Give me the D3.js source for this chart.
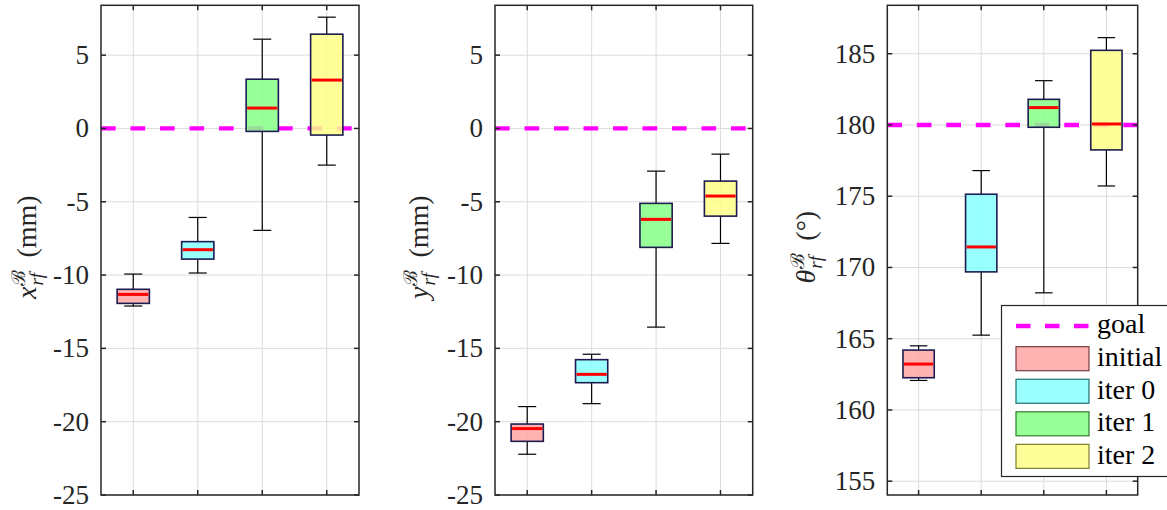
<!DOCTYPE html>
<html>
<head>
<meta charset="utf-8">
<script src="https://cdn.jsdelivr.net/npm/d3@7"></script>
<style>
  html, body { margin: 0; padding: 0; background: #fff; }
  svg { display: block; }
</style>
</head>
<body>
<svg id="svg" width="1167" height="510"></svg>
<script>
// box statistics: whisker low, q1, median, q3, whisker high
const groups = ["initial", "iter 0", "iter 1", "iter 2"];
const fillColors = ["#ffb3b3", "#99ffff", "#99ff99", "#ffff99"];   // as seen on white
const boxFills = ["#ffa5a5", "#87ffff", "#87ff87", "#ffff87"];     // drawn at 0.85 opacity
const legendEdges = ["#7a3b3b", "#1f6e6e", "#2e7d2e", "#7d7d2e"];

const xLow  = [-12.11, -9.86, -6.95, -2.50];
const xQ1   = [-11.93, -8.91, -0.20, -0.45];
const xMed  = [-11.32, -8.27,  1.39,  3.30];
const xQ3   = [-10.97, -7.72,  3.36,  6.43];
const xHigh = [ -9.93, -6.07,  6.09,  7.59];

const yLow  = [-22.22, -18.77, -13.55, -7.84];
const yQ1   = [-21.34, -17.34,  -8.11, -5.98];
const yMed  = [-20.47, -16.77,  -6.20, -4.61];
const yQ3   = [-20.16, -15.77,  -5.11, -3.59];
const yHigh = [-18.97, -15.40,  -2.91, -1.75];

const tLow  = [162.07, 165.25, 168.22, 175.72];
const tQ1   = [162.26, 169.69, 179.84, 178.25];
const tMed  = [163.22, 171.44, 181.22, 180.07];
const tQ3   = [164.20, 175.14, 181.80, 185.24];
const tHigh = [164.50, 176.80, 183.11, 186.13];

const mmTicks = [-25, -20, -15, -10, -5, 0, 5];
const degTicks = [155, 160, 165, 170, 175, 180, 185];

const panels = [
  { left: 101, right: 359, dom: [-25, 8.4], ticks: mmTicks, goal: 0,
    lo: xLow, q1: xQ1, med: xMed, q3: xQ3, hi: xHigh, sym: "x", unit: "(mm)", labX: 36 },
  { left: 495, right: 752.7, dom: [-25, 8.4], ticks: mmTicks, goal: 0,
    lo: yLow, q1: yQ1, med: yMed, q3: yQ3, hi: yHigh, sym: "y", unit: "(mm)", labX: 428 },
  { left: 887.3, right: 1137.7, dom: [154.03, 188.4], ticks: degTicks, goal: 180,
    lo: tLow, q1: tQ1, med: tMed, q3: tQ3, hi: tHigh, sym: "θ", unit: "(°)", labX: 815 },
];

const TOP = 5.3, BOTTOM = 495;
const AXIS = "#262626";
const FONT = "'Liberation Serif', 'Times New Roman', Times, 'DejaVu Serif', serif";
const svg = d3.select("#svg").attr("font-family", FONT);

function drawPanel(p) {
  const x = d3.scaleLinear().domain([0.5, 4.5]).range([p.left, p.right]);
  const y = d3.scaleLinear().domain(p.dom).range([BOTTOM, TOP]);
  const g = svg.append("g");
  const idx = d3.range(groups.length);

  // grid
  g.append("g").selectAll("line").data(p.ticks).join("line")
    .attr("x1", p.left).attr("x2", p.right)
    .attr("y1", d => y(d)).attr("y2", d => y(d))
    .attr("stroke", "#dcdcdc").attr("stroke-width", 1);
  g.append("g").selectAll("line").data(idx).join("line")
    .attr("x1", i => x(i + 1)).attr("x2", i => x(i + 1))
    .attr("y1", TOP).attr("y2", BOTTOM)
    .attr("stroke", "#dcdcdc").attr("stroke-width", 1);

  // goal line
  g.append("line")
    .attr("x1", p.left).attr("x2", p.right)
    .attr("y1", y(p.goal)).attr("y2", y(p.goal))
    .attr("stroke", "#ff00ff").attr("stroke-width", 4.3)
    .attr("stroke-dasharray", "14.7 14.8");

  // whiskers
  const capW = 0.14;
  const wh = g.append("g").attr("stroke", "#000").attr("stroke-width", 1.2);
  idx.forEach(i => {
    const cx = x(i + 1);
    wh.append("line").attr("x1", cx).attr("x2", cx).attr("y1", y(p.hi[i])).attr("y2", y(p.q3[i]));
    wh.append("line").attr("x1", cx).attr("x2", cx).attr("y1", y(p.q1[i])).attr("y2", y(p.lo[i]));
    wh.append("line").attr("x1", x(i + 1 - capW)).attr("x2", x(i + 1 + capW))
      .attr("y1", y(p.hi[i])).attr("y2", y(p.hi[i]));
    wh.append("line").attr("x1", x(i + 1 - capW)).attr("x2", x(i + 1 + capW))
      .attr("y1", y(p.lo[i])).attr("y2", y(p.lo[i]));
  });

  // boxes
  const bw = 0.25;
  g.append("g").selectAll("rect").data(idx).join("rect")
    .attr("x", i => x(i + 1 - bw)).attr("width", i => x(i + 1 + bw) - x(i + 1 - bw))
    .attr("y", i => y(p.q3[i])).attr("height", i => y(p.q1[i]) - y(p.q3[i]))
    .attr("fill", i => boxFills[i]).attr("fill-opacity", 0.85)
    .attr("stroke", "#1c1c50").attr("stroke-width", 1.6);

  // medians
  g.append("g").selectAll("line").data(idx).join("line")
    .attr("x1", i => x(i + 1 - bw) + 1).attr("x2", i => x(i + 1 + bw) - 1)
    .attr("y1", i => y(p.med[i])).attr("y2", i => y(p.med[i]))
    .attr("stroke", "#ff0000").attr("stroke-width", 3);

  // frame + ticks
  g.append("rect").attr("x", p.left).attr("y", TOP)
    .attr("width", p.right - p.left).attr("height", BOTTOM - TOP)
    .attr("fill", "none").attr("stroke", AXIS).attr("stroke-width", 1.5);
  const tk = g.append("g").attr("stroke", AXIS).attr("stroke-width", 1.5);
  p.ticks.forEach(t => {
    tk.append("line").attr("x1", p.left).attr("x2", p.left + 5).attr("y1", y(t)).attr("y2", y(t));
    tk.append("line").attr("x1", p.right).attr("x2", p.right - 5).attr("y1", y(t)).attr("y2", y(t));
  });
  idx.forEach(i => {
    tk.append("line").attr("x1", x(i + 1)).attr("x2", x(i + 1)).attr("y1", BOTTOM).attr("y2", BOTTOM - 5);
    tk.append("line").attr("x1", x(i + 1)).attr("x2", x(i + 1)).attr("y1", TOP).attr("y2", TOP + 5);
  });

  g.append("g").selectAll("text").data(p.ticks).join("text")
    .attr("x", p.left - 12).attr("y", d => y(d)).attr("dy", "0.33em")
    .attr("text-anchor", "end").attr("font-size", 27).attr("fill", AXIS)
    .text(d => String(d));

  // rotated y label:  sym^B_rf (unit)
  const lab = g.append("g")
    .attr("transform", `translate(${p.labX},${(TOP + BOTTOM) / 2 - 3}) rotate(-90)`)
    .attr("fill", AXIS);
  const parts = lab.append("g");
  const s = parts.append("text").attr("font-size", 28).attr("font-style", "italic").text(p.sym);
  let w = s.node().getComputedTextLength() + 1;
  const sup = parts.append("text").attr("x", w).attr("y", -11).attr("font-size", 19)
    .attr("font-family", "'DejaVu Serif', serif").text("ℬ");
  const sub = parts.append("text").attr("x", w).attr("y", 7).attr("font-size", 19)
    .attr("font-style", "italic").text("rf");
  w += Math.max(sup.node().getComputedTextLength(), sub.node().getComputedTextLength()) + 12;
  const u = parts.append("text").attr("x", w).attr("font-size", 28).text(p.unit);
  w += u.node().getComputedTextLength();
  parts.attr("transform", `translate(${-w / 2},0)`);
}

panels.forEach(drawPanel);

// legend
const leg = svg.append("g").attr("fill", "#000");
leg.append("rect").attr("x", 1001.5).attr("y", 305.5).attr("width", 170).attr("height", 171)
  .attr("fill", "#fff").attr("stroke", AXIS).attr("stroke-width", 1.2);
leg.append("line").attr("x1", 1016).attr("x2", 1089).attr("y1", 326).attr("y2", 326)
  .attr("stroke", "#ff00ff").attr("stroke-width", 4.3).attr("stroke-dasharray", "14.5 14.5");
leg.append("text").attr("x", 1097).attr("y", 333).attr("font-size", 28).text("goal");
groups.forEach((name, i) => {
  const cy = 358.7 + i * 32.55;
  leg.append("rect").attr("x", 1016).attr("y", cy - 12).attr("width", 73).attr("height", 24)
    .attr("fill", fillColors[i]).attr("stroke", legendEdges[i]).attr("stroke-width", 1.2);
  leg.append("text").attr("x", 1097).attr("y", cy + 7.5).attr("font-size", 28).text(name);
});
</script>
</body>
</html>
